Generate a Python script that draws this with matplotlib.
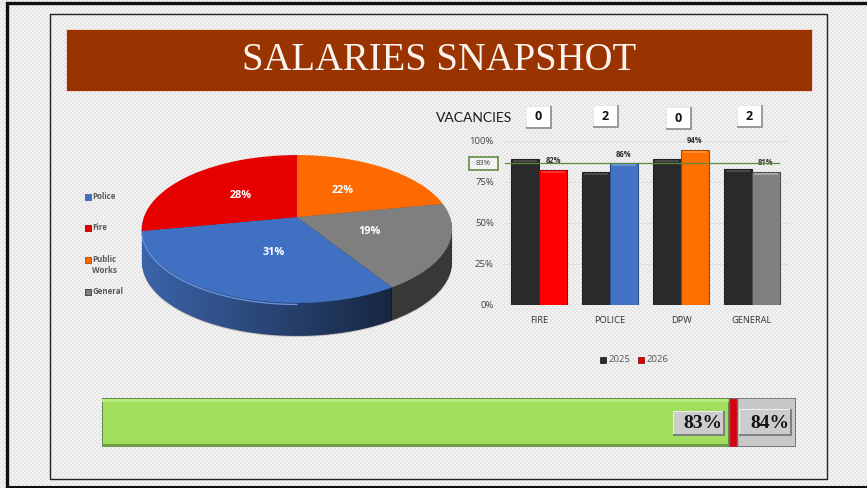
"""Salaries snapshot dashboard"""
import matplotlib
matplotlib.use('Agg')
import matplotlib.pyplot as plt
import numpy as np
from matplotlib.patches import Rectangle, Polygon
from matplotlib.path import Path
from matplotlib.transforms import Transform

W, H = 867, 488

# pie
pie_labels = ['Police', 'Fire', 'Public\nWorks', 'General']
pie_values = [31, 28, 22, 19]
pie_colors = ['#4070c2', '#e60000', '#ff6a00', '#7f7f7f']
side_colors = ['#3c64aa', '#a00000', '#b04800', '#383838']
legend_y = [196, 227, 259, 291]

# bars
categories = ['FIRE', 'POLICE', 'DPW', 'GENERAL']
values_2025 = [88.5, 80.5, 88.5, 82.5]
values_2026 = [82, 86, 94, 81]
bar_colors = ['#ff0000', '#4472c4', '#ff7000', '#808080']
bar_edges = ['#a80000', '#2f528f', '#a04800', '#505050']
bar_tops = ['#ff3030', '#6b92dc', '#ff9030', '#a6a6a6']
vacancies = [0, 2, 0, 2]
target_label = '83%'
target_line = 86

# gauge
actual = 83
budget = 84
gauge_max = 91.8


class Tilt(Transform):
	"""perspective of the flat pie, unit circle to pixels"""
	input_dims = 2
	output_dims = 2

	def __init__(self, dy=0):
		super().__init__()
		self.dy = dy

	def transform_non_affine(self, values):
		values = np.asarray(values, dtype=float)
		d = 1 + 0.162 * values[:, 1]
		return np.column_stack((297 + 153 * values[:, 0] / d, 217 + self.dy - 72 * values[:, 1] / d))


def bevel_box(ax, x0, y0, x1, y1, face, light, dark, zorder=5):
	ax.add_patch(Rectangle((x0, y0), x1 - x0, y1 - y0, fc=dark, ec='none', zorder=zorder))
	ax.add_patch(Rectangle((x0, y0), x1 - x0 - 2, y1 - y0 - 2, fc=light, ec='none', zorder=zorder))
	ax.add_patch(Rectangle((x0 + 1, y0 + 1), x1 - x0 - 3, y1 - y0 - 3, fc=face, ec='none', zorder=zorder))


def pixel_axes(fig, x0, y0, x1, y1):
	return fig.add_axes([x0 / W, 1 - y1 / H, (x1 - x0) / W, (y1 - y0) / H])


fig = plt.figure(figsize=(W / 100, H / 100), dpi=100)
bg = fig.add_axes([0, 0, 1, 1])

# dither pattern behind everything
yy, xx = np.indices((H, W))
pattern = np.where(((xx // 2) + (yy // 2)) % 2 == 0, 0.955, 0.90)
bg.imshow(pattern, cmap='gray', vmin=0, vmax=1, extent=(0, W, H, 0), aspect='auto', interpolation='nearest')
bg.set_xlim(0, W)
bg.set_ylim(H, 0)
bg.axis('off')

# frames
bg.plot([7, 7, W], [486, 3, 3], color='#111111', lw=2.4, solid_joinstyle='miter')
bg.plot([7, W], [486.5, 486.5], color='#111111', lw=2.2)
bg.add_patch(Rectangle((49.5, 13.5), 777, 465, fc='none', ec='#222222', lw=1))

# title
bg.add_patch(Rectangle((66, 29), 746, 62, fc='#993300', ec='#f2e3dc', lw=0.6))
bg.text(439.5, 60.5, 'SALARIES SNAPSHOT', color='#fbf3ee', family='Liberation Serif', fontsize=27.8,
	ha='center', va='center')

# pie, stacked downwards for the side wall
pa = fig.add_axes([0, 0, 1, 1])
pa.patch.set_alpha(0)
shadow, _ = pa.pie(pie_values, startangle=-57.6, counterclock=False, colors=['#cbbfb4'] * 4)
for w in shadow:
	w.set_transform(Tilt(34) + pa.transData)
	w.set_zorder(1)
for dy in range(33, 0, -1):
	wall, _ = pa.pie(pie_values, startangle=-57.6, counterclock=False, colors=side_colors)
	for w in wall:
		w.set_transform(Tilt(dy) + pa.transData)
		w.set_zorder(2)

# side wall gets darker to the right
tt = np.linspace(0, -np.pi, 200)
rim = Tilt(33).transform_non_affine(np.column_stack((np.cos(tt), np.sin(tt))))
wall_path = Path(np.vstack((rim, rim[0])), closed=True)
ramp = np.zeros((1, 256, 4))
ramp[0, :, 3] = np.linspace(0, 0.62, 256)
shade = pa.imshow(ramp, extent=(141, 392, 340, 215), aspect='auto', zorder=3)
shade.set_clip_path(Polygon(wall_path.vertices, transform=pa.transData))

wedges, _, autotexts = pa.pie(pie_values, startangle=-57.6, counterclock=False, colors=pie_colors,
	autopct=lambda p: f'{p:.0f}%', pctdistance=0.5, textprops=dict(color='white', fontweight='bold',
	fontsize=7.8, family='Open Sans'))
for w in wedges:
	w.set_transform(Tilt() + pa.transData)
	w.set_zorder(4)
for t in autotexts:
	t.set_transform(Tilt() + pa.transData)
	t.set_zorder(5)
autotexts[0].set_x(autotexts[0].get_position()[0] + 0.06)

# light rim on the front edge
front = np.linspace(-np.pi * 0.98, -np.pi * 0.5, 80)
edge = Tilt(1.5).transform_non_affine(np.column_stack((np.cos(front), np.sin(front))))
pa.plot(edge[:, 0], edge[:, 1], color='#6a92dc', lw=1.0, zorder=3.5)
pa.set_xlim(0, W)
pa.set_ylim(H, 0)
pa.set_aspect('auto')
pa.axis('off')

# pie legend
for name, col, side, y in zip(pie_labels, pie_colors, side_colors, legend_y):
	bg.add_patch(Rectangle((85, y - 2.5), 6, 6, fc=col, ec=side, lw=0.6))
	bg.text(92.5, y - 4, name, color='#595959', fontsize=5.7, fontweight='bold', family='Open Sans',
		ha='left', va='top', linespacing=1.35)

# vacancies row
bg.text(436, 118.5, 'VACANCIES', color='#1a1a1a', fontsize=10, family='Lato', ha='left', va='center')
box_pos = [(526, 106), (593, 105), (666, 107), (737, 105)]
for (x, y), v in zip(box_pos, vacancies):
	bevel_box(bg, x, y, x + 26, y + 23, 'white', '#e8e8e8', '#9a9a9a')
	bg.text(x + 12.5, y + 11, str(v), color='#111111', fontsize=9, fontweight='bold', family='Open Sans',
		ha='center', va='center', zorder=6)

# bars
ba = pixel_axes(fig, 503.5, 140.5, 787.5, 304.5)
ba.patch.set_alpha(0)
x = np.arange(len(categories))
bw = 28 / 71
ba.bar(x - bw / 2, values_2025, bw, color='#2a2a2a', edgecolor='#222222', lw=0.8, zorder=2)
rects = ba.bar(x + bw / 2, values_2026, bw, color=bar_colors, edgecolor=bar_edges, lw=0.8, zorder=2)
ba.bar(x - bw / 2, [1.2] * 4, bw * 0.86, bottom=np.array(values_2025) - 1.8, color='#4a4a4a', zorder=3)
ba.bar(x + bw / 2, [1.2] * 4, bw * 0.86, bottom=np.array(values_2026) - 1.8, color=bar_tops, zorder=3)
ba.bar_label(rects, fmt='%d%%', padding=3.5, fontsize=5.5, fontweight='bold', color='#333333', family='Open Sans')
ba.set_xlim(-0.5, 3.5)
ba.set_ylim(0, 100)
ba.set_yticks([0, 25, 50, 75, 100])
ba.set_yticklabels(['0%', '25%', '50%', '75%', '100%'], fontsize=6.8, color='#404040', family='Open Sans')
ba.set_xticks(x)
ba.set_xticklabels(categories, fontsize=6.7, color='#333333', family='Open Sans')
ba.tick_params(length=0, pad=8, axis='x')
ba.tick_params(length=0, pad=7, axis='y')
ba.grid(axis='y', color='#dcdcdc', lw=0.6, zorder=0)
for s in ba.spines.values():
	s.set_visible(False)
ba.axhline(0, color='#a0a0a0', lw=0.8, zorder=1)
ba.plot([-0.48, 3.38], [target_line, target_line], color='#5c8a3a', lw=0.9, zorder=4, clip_on=False)

bg.add_patch(Rectangle((468.5, 157), 29.5, 13, fc='#f2f2f2', ec='#548235', lw=1.1, zorder=5))
bg.text(483, 163.7, target_label, color='#404040', fontsize=5.6, family='Open Sans', ha='center', va='center', zorder=6)

# bar legend
for x0, col, edge_col, name in [(600, '#2a2a2a', '#111111', '2025'), (638, '#e00000', '#800000', '2026')]:
	bg.add_patch(Rectangle((x0, 357), 6, 6, fc=col, ec=edge_col, lw=0.5))
	bg.text(x0 + 8.5, 359.8, name, color='#595959', fontsize=6.8, family='Open Sans', ha='left', va='center')

# gauge
ga = pixel_axes(fig, 102, 398, 796, 447)
ga.barh(0.5, gauge_max, 1, color='#c8c8c8', edgecolor='#6a6a78', lw=1.2)
ga.barh(0.5, actual, 1, color='#a0de5c', edgecolor='#5f7a45', lw=1.2)
ga.barh(0.95, actual, 0.05, color='#b8ea80')
ga.barh(0.03, actual, 0.05, color='#6f9a48')
ga.barh(0.5, budget - actual, 1, left=actual, color='#d80010', edgecolor='#6a6a6a', lw=1)
ga.set_xlim(0, gauge_max)
ga.set_ylim(0, 1)
ga.axis('off')

bg.set_zorder(0)
ga.set_zorder(0.5)
pa.set_zorder(1)
ba.set_zorder(2)
bg.patch.set_visible(False)

# value boxes sit on top of the gauge
over = fig.add_axes([0, 0, 1, 1])
over.set_xlim(0, W)
over.set_ylim(H, 0)
over.axis('off')
over.set_zorder(3)
bevel_box(over, 673, 411, 725, 436, '#cccccc', '#eeeeee', '#808080')
bevel_box(over, 739, 409, 792, 436, '#cccccc', '#eeeeee', '#808080')
over.text(702.5, 423, f'{actual}%', family='Liberation Serif', fontweight='bold', fontsize=14, color='#111111',
	ha='center', va='center', zorder=6)
over.text(770, 423, f'{budget}%', family='Liberation Serif', fontweight='bold', fontsize=14, color='#111111',
	ha='center', va='center', zorder=6)

plt.savefig('out.png', dpi=100)
plt.close()
